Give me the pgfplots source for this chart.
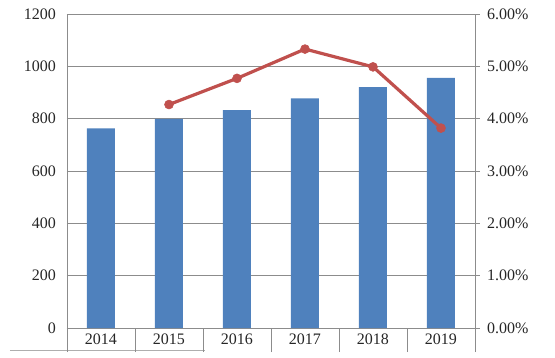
\documentclass[border=0pt]{standalone}
\usepackage{fontspec}
\setmainfont{Liberation Serif}
\usepackage{pgfplots}
\pgfplotsset{compat=1.18}
\definecolor{barblue}{HTML}{4F81BD}
\definecolor{linered}{HTML}{C0504D}
\definecolor{gridgray}{HTML}{8C8C8C}
\begin{document}
\begin{tikzpicture}
\useasboundingbox (-67pt,-29pt) rectangle (488pt,328pt);
\draw[gridgray!70, line width=0.5pt] (-57pt,-22.5pt) -- (138pt,-22.5pt);
\begin{axis}[
  at={(0,0)}, anchor=south west,
  scale only axis, width=408pt, height=314pt,
  xmin=-0.5, xmax=5.5, ymin=0, ymax=1200,
  ytick distance=200,
  xtick={0,1,2,3,4,5},
  xticklabels={2014,2015,2016,2017,2018,2019},
  extra x ticks={-0.5,0.5,1.5,2.5,3.5,4.5,5.5},
  extra x tick labels={},
  extra x tick style={major tick length=24pt, tick align=outside, grid=none, tick style={gridgray, line width=0.8pt}},
  axis y line*=left, axis x line*=bottom,
  axis line style={gridgray, line width=0.8pt},
  x axis line style={-}, y axis line style={-},
  major tick length=0pt,
  ymajorgrids, grid style={gridgray, line width=0.8pt},
  /pgf/number format/assume math mode=true,
  /pgf/number format/1000 sep={},
  tick label style={font=\fontsize{16}{18}\selectfont, text=black!85},
  yticklabel style={xshift=-7.5pt},
  xticklabel style={yshift=-2.5pt},
  clip=false,
]
\addplot[ybar, bar width=28pt, fill=barblue, draw=none] coordinates {
  (0,763) (1,799) (2,833) (3,878) (4,921) (5,956)
};
\end{axis}
\begin{axis}[
  at={(0,0)}, anchor=south west,
  scale only axis, width=408pt, height=314pt,
  xmin=-0.5, xmax=5.5, ymin=0, ymax=6,
  axis x line=none,
  axis y line*=right,
  axis line style={gridgray, line width=0.8pt},
  y axis line style={-},
  ytick={0,1,2,3,4,5,6},
  yticklabels={0.00\%,1.00\%,2.00\%,3.00\%,4.00\%,5.00\%,6.00\%},
  major tick length=5pt, tick align=outside,
  tick style={gridgray, line width=0.8pt},
  tick label style={font=\fontsize{16}{18}\selectfont, text=black!85},
  yticklabel style={xshift=3.5pt},
  clip=false,
]
\addplot[linered, line width=3.2pt, mark=*, mark size=4.5pt, mark options={fill=linered, draw=linered, line width=0.5pt}] coordinates {
  (1,4.27) (2,4.77) (3,5.33) (4,4.99) (5,3.82)
};
\end{axis}
\end{tikzpicture}
\end{document}
